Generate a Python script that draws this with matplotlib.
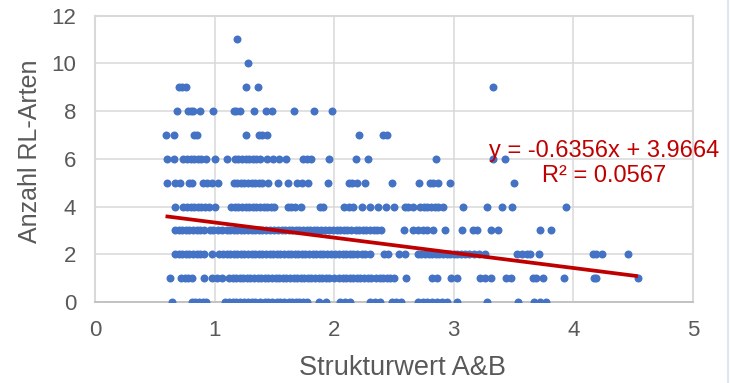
import numpy as np
import matplotlib
matplotlib.use('Agg')
import matplotlib.pyplot as plt
from matplotlib.lines import Line2D

plt.rcParams['font.family'] = ['Liberation Sans', 'DejaVu Sans']

# x values (Strukturwert A&B) for each count of red-list species
x_y0 = [0.64, 0.81, 0.84, 0.87, 0.90, 0.93, 1.09, 1.12, 1.15, 1.18, 1.21, 1.25, 1.28, 1.31,
        1.34, 1.38, 1.42, 1.45, 1.48, 1.52, 1.55, 1.58, 1.62, 1.65, 1.68, 1.71, 1.74, 1.77,
        1.87, 1.93, 2.05, 2.09, 2.13, 2.30, 2.34, 2.38, 2.48, 2.52, 2.56, 2.70, 2.74, 2.78,
        2.82, 2.86, 2.90, 2.94, 3.03, 3.28, 3.54, 3.67, 3.72, 3.77]
x_y1 = [0.63, 0.72, 0.75, 0.78, 0.81, 0.91, 0.98, 1.02, 1.06, 1.12, 1.15, 1.18, 1.21, 1.24,
        1.27, 1.30, 1.33, 1.36, 1.39, 1.42, 1.45, 1.48, 1.51, 1.54, 1.57, 1.60, 1.63, 1.66,
        1.69, 1.72, 1.75, 1.78, 1.81, 1.84, 1.87, 1.90, 1.93, 1.96, 2.00, 2.04, 2.07, 2.10,
        2.13, 2.16, 2.19, 2.22, 2.25, 2.28, 2.31, 2.35, 2.38, 2.41, 2.44, 2.47, 2.50, 2.60,
        2.82, 2.86, 2.98, 3.03, 3.22, 3.26, 3.31, 3.44, 3.48, 3.66, 3.69, 3.75, 3.92, 4.17,
        4.19, 4.54]
x_y2 = [0.67, 0.70, 0.73, 0.76, 0.79, 0.82, 0.85, 0.88, 0.91, 0.98, 1.04, 1.07, 1.10, 1.13,
        1.16, 1.19, 1.22, 1.25, 1.28, 1.31, 1.34, 1.37, 1.40, 1.43, 1.46, 1.49, 1.52, 1.55,
        1.58, 1.61, 1.64, 1.67, 1.70, 1.73, 1.76, 1.79, 1.82, 1.85, 1.88, 1.91, 1.94, 1.97,
        2.01, 2.04, 2.07, 2.10, 2.13, 2.16, 2.19, 2.23, 2.26, 2.30, 2.42, 2.45, 2.54, 2.59,
        2.70, 2.73, 2.76, 2.79, 2.82, 2.85, 2.88, 2.91, 2.94, 2.97, 3.00, 3.03, 3.06, 3.09,
        3.13, 3.17, 3.21, 3.26, 3.53, 3.57, 3.61, 3.64, 3.71, 4.16, 4.19, 4.24, 4.46]
x_y3 = [0.67, 0.70, 0.73, 0.76, 0.79, 0.82, 0.85, 0.88, 0.91, 0.96, 0.99, 1.03, 1.06, 1.10,
        1.13, 1.16, 1.19, 1.22, 1.25, 1.28, 1.31, 1.34, 1.37, 1.40, 1.43, 1.46, 1.50, 1.53,
        1.56, 1.59, 1.62, 1.65, 1.68, 1.71, 1.74, 1.77, 1.80, 1.83, 1.86, 1.89, 1.92, 1.96,
        1.99, 2.02, 2.05, 2.08, 2.11, 2.14, 2.18, 2.21, 2.24, 2.27, 2.30, 2.33, 2.36, 2.39,
        2.58, 2.66, 2.70, 2.74, 2.78, 2.83, 2.93, 3.07, 3.16, 3.19, 3.31, 3.37, 3.72, 3.81]
x_y4 = [0.67, 0.74, 0.77, 0.80, 0.83, 0.86, 0.89, 0.92, 0.95, 1.00, 1.14, 1.17, 1.20, 1.23,
        1.26, 1.29, 1.32, 1.35, 1.38, 1.41, 1.44, 1.47, 1.50, 1.61, 1.64, 1.67, 1.72, 1.88,
        1.91, 2.08, 2.12, 2.16, 2.23, 2.30, 2.37, 2.43, 2.50, 2.59, 2.62, 2.66, 2.72, 2.75,
        2.78, 2.81, 2.84, 2.87, 2.91, 3.08, 3.28, 3.40, 3.49, 3.94]
x_y5 = [0.60, 0.67, 0.71, 0.79, 0.81, 0.90, 0.94, 0.98, 1.03, 1.16, 1.19, 1.22, 1.25, 1.28,
        1.31, 1.34, 1.37, 1.40, 1.45, 1.53, 1.61, 1.69, 1.73, 1.78, 1.95, 2.12, 2.15, 2.19,
        2.26, 2.48, 2.71, 2.80, 2.83, 2.87, 2.97, 3.50]
x_y6 = [0.60, 0.66, 0.74, 0.77, 0.80, 0.83, 0.86, 0.89, 0.93, 1.00, 1.10, 1.17, 1.20, 1.23,
        1.26, 1.29, 1.32, 1.35, 1.38, 1.44, 1.49, 1.54, 1.60, 1.74, 1.77, 1.81, 1.96, 2.18,
        2.28, 2.85, 3.33, 3.43]
x_y7 = [0.59, 0.66, 0.83, 0.85, 1.26, 1.37, 1.40, 1.44, 2.21, 2.41, 2.44]
x_y8 = [0.69, 0.78, 0.80, 0.82, 0.88, 0.99, 1.16, 1.18, 1.21, 1.33, 1.43, 1.48, 1.66, 1.83, 1.98]
x_y9 = [0.70, 0.73, 0.76, 1.26, 1.36, 3.33]
x_y10 = [1.28]
x_y11 = [1.19]

rows = [x_y0, x_y1, x_y2, x_y3, x_y4, x_y5, x_y6, x_y7, x_y8, x_y9, x_y10, x_y11]

# linear trendline as reported in the chart
slope = -0.6356
intercept = 3.9664
r_squared = 0.0567

x_ticks = [0, 1, 2, 3, 4, 5]
y_ticks = [0, 2, 4, 6, 8, 10, 12]

xs = np.concatenate([np.array(r, dtype=float) for r in rows])
ys = np.concatenate([np.full(len(r), k, dtype=float) for k, r in enumerate(rows)])

fig = plt.figure(figsize=(7.3, 3.83), dpi=100)
ax = fig.add_axes([0.1301, 0.2115, 0.8192, 0.748])

ax.scatter(xs, ys, s=33, color='#4472C4', linewidths=0, zorder=3)

tx = np.array([xs.min(), xs.max()])
ax.plot(tx, slope * tx + intercept, color='#C00000', lw=2.7, zorder=4,
        solid_capstyle='butt')

ax.set_xlim(0, 5)
ax.set_ylim(0, 12)
ax.set_xticks(x_ticks)
ax.set_yticks(y_ticks)
ax.grid(True, color='#d9d9d9', lw=1.1, zorder=0)
ax.set_axisbelow(True)
ax.tick_params(length=0, labelsize=16, labelcolor='#595959')
ax.tick_params(axis='x', pad=13)
ax.tick_params(axis='y', pad=13.5)
for side in ['top', 'right', 'left']:
    ax.spines[side].set_color('#d9d9d9')
    ax.spines[side].set_linewidth(1.5)
ax.spines['bottom'].set_color('#bfbfbf')
ax.spines['bottom'].set_linewidth(1.3)

ax.set_xlabel('Strukturwert A&B', fontsize=19.5, color='#595959')
ax.xaxis.set_label_coords(0.514, -0.255)
ax.xaxis.label.set_va('baseline')
ax.set_ylabel('Anzahl RL-Arten', fontsize=18, color='#595959')
ax.yaxis.set_label_coords(-0.108, 0.525)
ax.yaxis.label.set_va('center')

eq = 'y = %.4fx + %.4f\nR² = %.4f' % (slope, intercept, r_squared)
ax.text(0.851, 0.483, eq, transform=ax.transAxes, ha='center', va='center',
        multialignment='center', fontsize=17, color='#C00000', linespacing=1.15,
        zorder=5, clip_on=False)

fig.add_artist(Line2D([0.9973, 0.9973], [0, 1], transform=fig.transFigure,
                      color='#dfe7f2', lw=1.5))

plt.savefig('out.png', dpi=100)
